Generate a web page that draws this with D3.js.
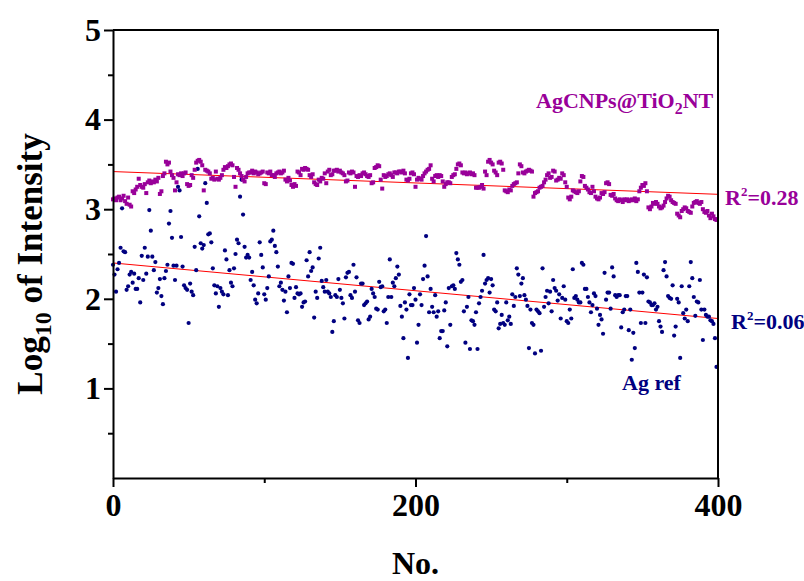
<!DOCTYPE html>
<html>
<head>
<meta charset="utf-8">
<script src="https://cdn.jsdelivr.net/npm/d3@7"></script>
<style>
  body { margin: 0; background: #fff; }
  svg { display: block; }
  text { font-family: "Liberation Serif", "Times New Roman", serif; font-weight: bold; }
</style>
</head>
<body>
<main></main>
<script>
// Log10 of intensity per spectrum No. (0..399)
const agCnps = [
  3.11,3.12,3.10,3.13,3.14,3.10,3.12,3.15,3.09,3.06,3.13,3.05,3.03,3.20,3.18,3.22,3.25,3.34,3.27,3.25,
  3.24,3.28,3.18,3.30,3.32,3.29,3.31,3.30,3.33,3.31,3.35,3.17,3.20,3.37,3.40,3.53,3.50,3.52,3.42,3.38,
  3.35,3.21,3.30,3.39,3.38,3.40,3.37,3.40,3.41,3.28,3.26,3.27,3.38,3.35,3.44,3.52,3.54,3.55,3.53,3.49,
  3.21,3.44,3.43,3.42,3.40,3.34,3.35,3.33,3.42,3.34,3.33,3.35,3.38,3.44,3.47,3.46,3.48,3.50,3.51,3.49,
  3.36,3.25,3.46,3.44,3.40,3.37,3.33,3.31,3.36,3.40,3.41,3.41,3.43,3.40,3.42,3.41,3.39,3.40,3.41,3.42,
  3.29,3.28,3.41,3.40,3.42,3.38,3.38,3.36,3.40,3.41,3.42,3.40,3.41,3.43,3.33,3.31,3.35,3.32,3.27,3.25,
  3.28,3.26,3.42,3.41,3.38,3.45,3.44,3.46,3.45,3.44,3.38,3.36,3.39,3.30,3.28,3.27,3.33,3.31,3.35,3.34,
  3.40,3.29,3.42,3.44,3.38,3.39,3.43,3.43,3.44,3.42,3.43,3.41,3.40,3.38,3.31,3.32,3.41,3.40,3.42,3.41,
  3.25,3.37,3.36,3.38,3.37,3.40,3.41,3.39,3.37,3.36,3.38,3.29,3.30,3.46,3.47,3.49,3.48,3.33,3.23,3.38,
  3.36,3.37,3.39,3.40,3.38,3.36,3.41,3.41,3.40,3.42,3.42,3.41,3.43,3.40,3.33,3.32,3.34,3.40,3.41,3.39,
  3.25,3.33,3.35,3.34,3.33,3.37,3.40,3.42,3.44,3.45,3.49,3.34,3.31,3.37,3.38,3.36,3.38,3.37,3.31,3.25,
  3.28,3.30,3.30,3.29,3.36,3.38,3.39,3.45,3.50,3.51,3.49,3.41,3.40,3.41,3.39,3.40,3.41,3.39,3.40,3.38,
  3.24,3.24,3.24,3.25,3.27,3.23,3.42,3.38,3.53,3.55,3.52,3.50,3.43,3.41,3.38,3.52,3.53,3.51,3.44,3.21,
  3.20,3.19,3.22,3.21,3.26,3.28,3.29,3.30,3.40,3.50,3.48,3.41,3.40,3.42,3.43,3.44,3.43,3.42,3.14,3.18,
  3.19,3.20,3.24,3.25,3.26,3.30,3.33,3.38,3.40,3.35,3.36,3.43,3.42,3.32,3.33,3.35,3.34,3.40,3.38,3.30,
  3.25,3.13,3.11,3.14,3.21,3.20,3.19,3.18,3.20,3.31,3.37,3.36,3.26,3.24,3.22,3.19,3.18,3.25,3.20,3.14,
  3.12,3.11,3.13,3.18,3.17,3.19,3.29,3.30,3.28,3.16,3.15,3.17,3.12,3.10,3.09,3.11,3.10,3.08,3.11,3.10,
  3.11,3.09,3.10,3.11,3.10,3.12,3.09,3.11,3.20,3.24,3.27,3.26,3.29,3.20,3.02,3.00,3.03,3.07,3.06,3.08,
  3.06,3.03,3.01,3.02,3.04,3.08,3.12,3.15,3.14,3.10,3.08,3.07,3.06,2.95,2.93,2.91,2.98,3.00,3.02,3.01,
  2.98,2.97,2.96,3.03,3.07,3.08,3.09,3.07,3.06,3.08,3.00,2.97,2.96,2.98,2.93,2.90,2.95,2.92,2.89,2.88
];

const agRef = [
  2.38,2.27,2.08,2.33,2.40,2.57,3.01,2.53,2.52,2.10,2.14,2.27,2.30,2.18,2.28,2.11,2.11,2.23,1.96,2.48,
  2.21,2.57,2.28,2.47,2.99,2.76,2.47,2.32,2.41,2.07,2.12,2.22,2.03,1.94,2.23,2.31,2.38,2.84,2.98,2.68,
  2.37,2.21,2.37,3.25,3.21,2.69,2.36,2.15,2.12,2.10,1.73,2.17,2.08,2.04,2.58,2.32,3.45,2.92,2.62,2.56,
  2.60,3.29,3.07,2.72,2.73,2.63,2.34,2.15,2.06,2.14,1.91,2.12,2.08,2.05,2.54,2.44,2.04,2.32,2.18,2.14,
  2.34,2.50,2.66,2.62,3.14,3.33,2.94,2.58,2.46,2.49,2.46,2.21,2.30,2.15,1.99,1.95,2.06,2.63,2.49,2.35,
  2.05,1.99,2.12,2.25,2.64,2.66,2.76,2.59,2.52,2.36,2.14,2.18,2.10,1.98,2.08,1.85,2.25,2.12,2.40,2.39,
  2.01,2.13,2.06,2.05,2.06,1.91,1.96,1.97,2.43,2.25,2.52,2.31,2.35,1.79,2.08,2.01,2.45,2.57,2.20,2.13,
  2.08,2.21,2.08,2.06,2.02,1.63,1.75,2.04,2.02,2.22,2.10,2.01,1.95,1.78,2.24,2.29,2.30,2.04,2.01,2.38,
  2.08,2.24,1.76,1.73,2.17,2.17,1.93,1.95,1.97,1.77,1.80,2.11,2.06,2.02,1.89,1.88,2.19,2.13,2.14,1.86,
  1.88,1.73,2.02,2.44,2.02,2.18,2.14,2.23,2.36,2.27,1.92,1.80,1.56,1.96,1.88,1.34,2.05,1.93,1.93,2.12,
  1.99,1.51,1.71,2.05,1.93,2.22,2.37,2.70,2.25,1.85,2.11,1.91,1.85,2.04,1.80,1.86,1.56,1.64,1.64,1.87,
  1.96,1.47,2.12,1.71,2.14,2.15,2.11,2.51,2.44,2.38,2.19,2.21,1.86,1.51,1.91,2.02,1.44,1.76,1.75,1.71,
  1.85,1.44,1.95,2.02,2.09,2.49,2.17,2.21,2.23,2.07,2.22,2.15,1.88,1.86,1.96,1.67,1.72,1.82,1.73,1.71,
  1.96,1.76,1.80,1.72,2.05,1.92,2.02,2.34,2.27,2.03,2.17,2.23,2.04,1.99,1.92,1.45,1.88,1.73,1.71,1.39,
  1.88,1.86,1.84,1.42,2.34,1.91,2.02,2.09,1.95,2.08,1.86,2.21,2.12,2.09,1.98,2.05,1.78,2.01,2.14,1.99,
  1.75,1.73,1.88,1.78,2.33,2.01,2.03,1.99,1.96,1.96,2.40,2.38,2.11,2.11,2.02,1.96,1.85,1.93,2.06,2.03,
  1.89,1.71,1.82,1.77,1.61,2.29,1.99,2.07,2.07,1.89,2.35,2.25,2.04,2.02,2.04,2.04,1.68,1.85,1.88,2.03,
  2.03,1.65,1.88,1.32,1.62,1.45,2.40,2.30,2.07,1.73,2.07,2.27,1.73,2.24,1.97,1.96,1.93,1.93,1.95,1.88,
  1.91,1.75,1.69,1.63,2.32,2.41,2.25,2.03,2.01,2.00,2.15,1.59,1.69,2.00,1.96,1.34,2.14,1.84,1.78,1.88,
  1.75,2.14,2.41,2.23,2.02,1.81,1.97,1.96,2.21,1.88,1.54,1.88,1.82,1.80,1.80,1.76,1.75,1.72,1.56,1.24
];

// linear fits, value at No. 0 and No. 400
const fitAgCnps = [3.42, 3.166];
const fitAgRef = [2.40, 1.78];

const xTicks = [0, 200, 400];
const xMinorTicks = [100, 300];
const yTicks = [1, 2, 3, 4, 5];
const yMinorTicks = [0.5, 1.5, 2.5, 3.5, 4.5];

const purple = "#990099";
const navy = "#000080";

let dimensions = {
  width: 804,
  height: 581,
  margin: { top: 30, right: 86, bottom: 103, left: 113 },
};
dimensions.boundedWidth = dimensions.width - dimensions.margin.left - dimensions.margin.right;
dimensions.boundedHeight = dimensions.height - dimensions.margin.top - dimensions.margin.bottom;

const svg = d3.select("main")
  .append("svg")
    .attr("width", dimensions.width)
    .attr("height", dimensions.height);

const graph = svg.append("g")
  .attr("transform", `translate(${dimensions.margin.left},${dimensions.margin.top})`);

const xScale = d3.scaleLinear()
  .domain([0, 400])
  .range([0, dimensions.boundedWidth]);

const yScale = d3.scaleLinear()
  .domain([0, 5])
  .range([dimensions.boundedHeight, 0]);

// regression lines
const fitLine = d3.line()
  .x(d => xScale(d[0]))
  .y(d => yScale(d[1]));

[fitAgCnps, fitAgRef].forEach(f => {
  graph.append("path")
    .datum([[0, f[0]], [400, f[1]]])
    .attr("d", fitLine)
    .attr("fill", "none")
    .attr("stroke", "#ff0000")
    .attr("stroke-width", 1);
});

// Ag ref dots
graph.append("g")
  .selectAll("circle")
  .data(agRef)
  .join("circle")
    .attr("cx", (d, i) => xScale(i))
    .attr("cy", d => yScale(d))
    .attr("r", 2.1)
    .attr("fill", navy);

// AgCNPs squares
graph.append("g")
  .selectAll("rect")
  .data(agCnps)
  .join("rect")
    .attr("x", (d, i) => xScale(i) - 2)
    .attr("y", d => yScale(d) - 2)
    .attr("width", 4)
    .attr("height", 4)
    .attr("fill", purple);

// axes
const xAxis = graph.append("g")
  .attr("transform", `translate(0,${dimensions.boundedHeight})`)
  .call(d3.axisBottom(xScale).tickValues(xTicks).tickSize(9).tickSizeOuter(0).tickFormat(d3.format("d")));
xAxis.append("g")
  .call(d3.axisBottom(xScale).tickValues(xMinorTicks).tickSize(5).tickSizeOuter(0).tickFormat(""))
  .select(".domain").remove();

const yAxis = graph.append("g")
  .call(d3.axisLeft(yScale).tickValues(yTicks).tickSize(9).tickSizeOuter(0).tickFormat(d3.format("d")));
yAxis.append("g")
  .call(d3.axisLeft(yScale).tickValues(yMinorTicks).tickSize(5).tickSizeOuter(0).tickFormat(""))
  .select(".domain").remove();

[xAxis, yAxis].forEach(a => {
  a.selectAll(".domain, line").attr("stroke", "#000").attr("stroke-width", 2);
  a.selectAll("text")
    .attr("fill", "#000")
    .style("font-size", "32px")
    .style("font-family", "'Liberation Serif', serif")
    .style("font-weight", "bold");
});
xAxis.selectAll(".tick text").attr("y", 15);
yAxis.selectAll(".tick text").attr("x", -12);

// top and right frame
graph.append("path")
  .attr("d", `M0,0H${dimensions.boundedWidth}V${dimensions.boundedHeight}`)
  .attr("fill", "none")
  .attr("stroke", "#000")
  .attr("stroke-width", 2);

// axis titles
svg.append("text")
  .attr("x", dimensions.margin.left + dimensions.boundedWidth / 2)
  .attr("y", 574)
  .attr("text-anchor", "middle")
  .style("font-size", "32px")
  .text("No.");

const yLabel = svg.append("text")
  .attr("transform", "translate(42,264) rotate(-90)")
  .attr("text-anchor", "middle")
  .style("font-size", "35px");
yLabel.append("tspan").text("Log");
yLabel.append("tspan").attr("dy", 9).style("font-size", "24px").text("10");
yLabel.append("tspan").attr("dy", -9).text(" of Intensity");

// annotations
const agLabel = svg.append("text")
  .attr("x", 536).attr("y", 108)
  .attr("fill", purple)
  .style("font-size", "22px");
agLabel.append("tspan").text("AgCNPs@TiO");
agLabel.append("tspan").attr("dy", 6).style("font-size", "16px").text("2");
agLabel.append("tspan").attr("dy", -6).text("NT");

function rLabel(x, y, color, val) {
  const t = svg.append("text").attr("x", x).attr("y", y).attr("fill", color).style("font-size", "22px");
  t.append("tspan").text("R");
  t.append("tspan").attr("dy", -9).style("font-size", "13px").text("2");
  t.append("tspan").attr("dy", 9).text("=" + val);
}
rLabel(725, 205, purple, "0.28");
rLabel(731, 329, navy, "0.06");

svg.append("text")
  .attr("x", 622).attr("y", 390)
  .attr("fill", navy)
  .style("font-size", "22px")
  .text("Ag ref");
</script>
</body>
</html>
